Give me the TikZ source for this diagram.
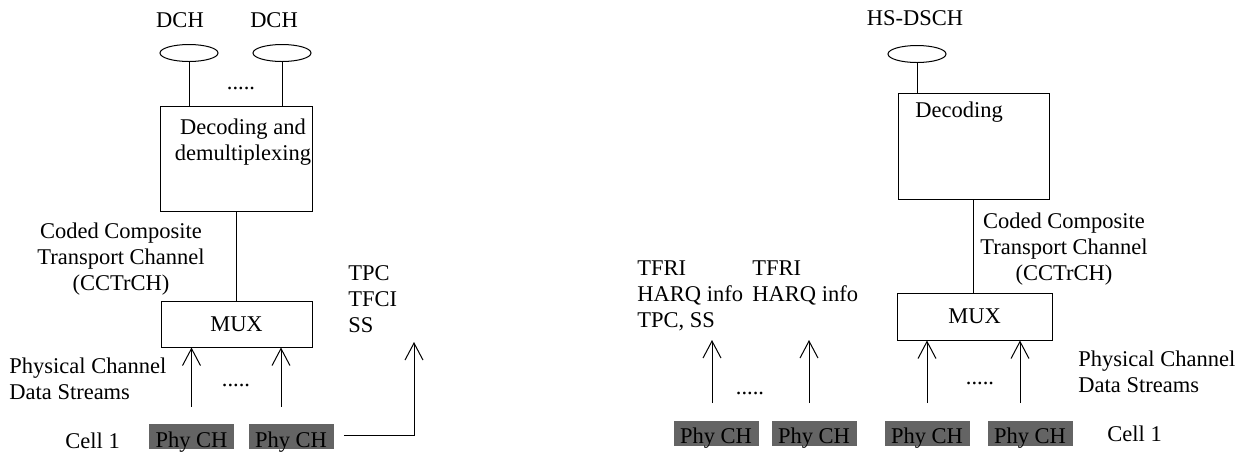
\documentclass[tikz,border=0pt]{standalone}
\usepackage{fontspec}
\setmainfont{Liberation Serif}
\usetikzlibrary{arrows.meta,shapes.geometric}
\definecolor{phygray}{RGB}{100,100,100}
\tikzset{
  every node/.style={font=\fontsize{11.25pt}{13pt}\selectfont, inner sep=0pt},
  wire/.style={line width=0.5pt},
  arr/.style={line width=0.5pt, -{Straight Barb[length=8.5pt,width=9pt,line width=0.5pt]}},
  chan/.style={draw, line width=0.5pt, ellipse, minimum width=29pt, minimum height=8.5pt},
  blk/.style={draw, line width=0.5pt, rectangle},
  phy/.style={fill=phygray, minimum width=42.5pt, minimum height=12.5pt, text height=11.5pt, text depth=1pt},
  txt/.style={anchor=north west, align=left},
}
\begin{document}
\begin{tikzpicture}[x=0.5pt,y=-0.5pt]
\useasboundingbox (0,0) rectangle (1248,456);
% ---------------- left part ----------------
\node[anchor=base] (dch1) at (180,27) {DCH};
\node[anchor=base] (dch2) at (274,27) {DCH};
\node[chan] (e1) at (189,53) {};
\node[chan] (e2) at (282,53) {};
\node[anchor=base] (dots1) at (241,89) {.....};
\node[blk, minimum width=76pt, minimum height=52.5pt] (dec1) at (236,158.5) {};
\node[anchor=north, align=center] (dec1t) at (243,118) {Decoding and\\demultiplexing};
\draw[wire] (e1.south) -- (e1.south |- dec1.north);
\draw[wire] (e2.south) -- (e2.south |- dec1.north);
\node[blk, minimum width=75.5pt, minimum height=23pt] (mux1) at (236.5,324) {MUX};
\draw[wire] (dec1.south) -- (dec1.south |- mux1.north);
\node[anchor=north, align=center] (cc1) at (121,222) {Coded Composite\\Transport Channel\\(CCTrCH)};
\node[txt] (tpc1) at (348,265) {TPC\\TFCI\\SS};
\node[txt] (pcds1) at (9,357) {Physical Channel\\Data Streams};
\node[anchor=base west] (cell1) at (65,448) {Cell 1};
\node[phy] (pc1) at (191.5,436.5) {Phy CH};
\node[phy] (pc2) at (291,436.5) {Phy CH};
\node[anchor=base] (dots2) at (236,386) {.....};
\draw[arr] ([yshift=8.5pt]pc1.north) -- (pc1.north |- mux1.south);
\draw[arr] ([xshift=-5pt,yshift=8.5pt]pc2.north) -- ([xshift=-5pt]pc2.north |- mux1.south);
\coordinate (ta) at (414,342);
\draw[arr] ([xshift=5pt,yshift=0.75pt]pc2.east) -| (ta);
% ---------------- right part ----------------
\node[anchor=base] (hs) at (915,25) {HS-DSCH};
\node[chan] (e3) at (917,54) {};
\node[blk, minimum width=75.5pt, minimum height=53pt] (dec2) at (973.5,146) {};
\node[anchor=base west] (dec2t) at (915,117) {Decoding};
\draw[wire] (e3.south) -- (e3.south |- dec2.north);
\node[blk, minimum width=77.5pt, minimum height=23.5pt] (mux2) at (974.5,316.5) {MUX};
\draw[wire] (dec2.south) -- (dec2.south |- mux2.north);
\node[anchor=north, align=center] (cc2) at (1064,212) {Coded Composite\\Transport Channel\\(CCTrCH)};
\node[txt] (tfri1) at (637,260) {TFRI\\HARQ info\\TPC, SS};
\node[txt] (tfri2) at (752,260) {TFRI\\HARQ info};
\node[phy] (pc3) at (716,433) {Phy CH};
\node[phy] (pc4) at (814,433) {Phy CH};
\node[phy] (pc5) at (927,433) {Phy CH};
\node[phy] (pc6) at (1030,433) {Phy CH};
\node[anchor=base] (dots3) at (750,394) {.....};
\node[anchor=base] (dots4) at (980,384) {.....};
\node[txt] (pcds2) at (1078,350) {Physical Channel\\Data Streams};
\node[anchor=base west] (cell2) at (1107,441) {Cell 1};
\coordinate (ta2) at (712,340);
\coordinate (ta3) at (809,340);
\draw[arr] ([xshift=-2pt,yshift=8.5pt]pc3.north) -- (ta2);
\draw[arr] ([xshift=-2.5pt,yshift=8.5pt]pc4.north) -- (ta3);
\draw[arr] ([yshift=8.5pt]pc5.north) -- (pc5.north |- mux2.south);
\draw[arr] ([xshift=-5pt,yshift=8.5pt]pc6.north) -- ([xshift=-5pt]pc6.north |- mux2.south);
\end{tikzpicture}
\end{document}
